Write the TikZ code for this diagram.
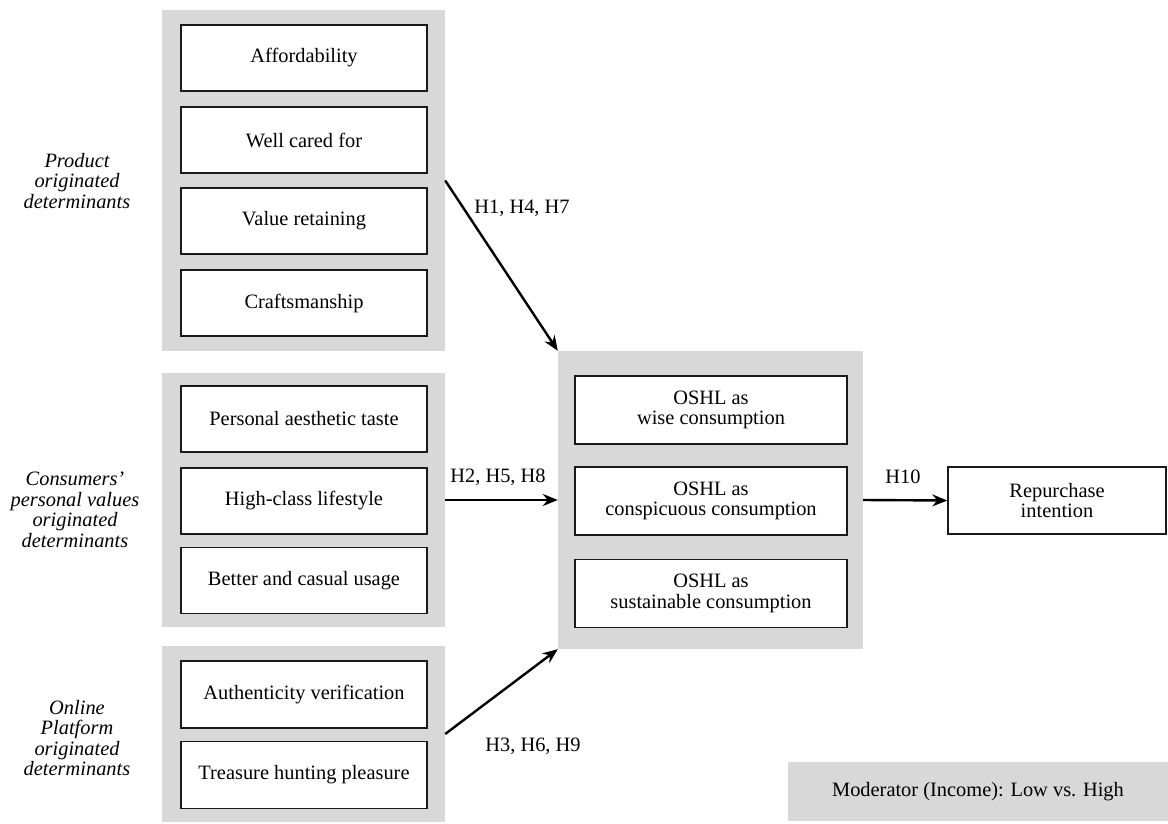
\documentclass[tikz,border=0pt]{standalone}
\usepackage{fontspec}
\setmainfont{Liberation Serif}
\usetikzlibrary{arrows.meta}
\definecolor{grp}{RGB}{216,216,216}
\begin{document}
\begin{tikzpicture}[x=1pt,y=-1pt,
 every node/.style={font=\fontsize{20.4}{20.5}\selectfont},
 grpbox/.style={fill=grp, draw=none, rectangle, inner sep=0pt},
 itembox/.style={fill=white, draw=black!90, line width=1.4pt, rectangle, inner sep=0pt, align=center, minimum width=246pt, minimum height=66pt},
 outbox/.style={fill=white, draw=black!90, line width=1.4pt, rectangle, inner sep=0pt, align=center, minimum width=272pt, minimum height=68pt},
 side/.style={font=\fontsize{20.4}{20.5}\selectfont\itshape, align=center, inner sep=0pt},
 lab/.style={inner sep=0pt},
 arr/.style={-{Stealth[length=15pt,width=12pt]}, line width=2.4pt}
]
\useasboundingbox (0,0) rectangle (1168,824);

% group boxes
\node[grpbox, minimum width=283pt, minimum height=341pt] (g1) at (303.5,180.5) {};
\node[grpbox, minimum width=283pt, minimum height=254pt] (g2) at (303.5,500) {};
\node[grpbox, minimum width=283pt, minimum height=176pt] (g3) at (303.5,734) {};
\node[grpbox, minimum width=305pt, minimum height=298pt] (cg) at (710.5,500) {};
\node[grpbox, minimum width=380pt, minimum height=59pt] (mod) at (978,791.5) {Moderator (Income): Low vs. High};

% product items
\node[itembox] (aff) at (304,58) {Affordability};
\node[itembox] (wcf) at (304,140) {Well cared for};
\node[itembox] (val) at (304,221) {Value retaining};
\node[itembox] (cra) at (304,303) {Craftsmanship};

% personal values items
\node[itembox] (pat) at (304,419) {Personal aesthetic taste};
\node[itembox] (hcl) at (304,501) {High-class lifestyle};
\node[itembox] (bcu) at (304,580.5) {Better and casual usage};

% platform items
\node[itembox, minimum height=67pt] (auv) at (304,694.5) {Authenticity verification};
\node[itembox, minimum height=67pt] (thp) at (304,775) {Treasure hunting pleasure};

% outcome items
\node[outbox] (wise) at (711,410) {OSHL as\\wise consumption};
\node[outbox] (consp) at (711,501) {OSHL as\\conspicuous consumption};
\node[outbox] (sust) at (711,593.5) {OSHL as\\sustainable consumption};

\node[fill=white, draw=black!90, line width=1.4pt, rectangle, inner sep=0pt, align=center, minimum width=218pt, minimum height=67pt] (rep) at (1057,500.5) {Repurchase\\intention};

% side labels
\node[side] (s1) at (77,181) {Product\\originated\\determinants};
\node[side] (s2) at (75,510) {Consumers'\\personal values\\originated\\determinants};
\node[side] (s3) at (77,738) {Online\\Platform\\originated\\determinants};

% arrows
\draw[arr] (g1.east) -- (cg.north west);
\draw[arr] (g2.east) -- (cg.west);
\draw[arr] (g3.east) -- (cg.south west);
\draw[arr] (cg.east) -- (rep.west);

% arrow labels
\node[lab] (l1) at (522,208) {H1, H4, H7};
\node[lab] (l2) at (498,477) {H2, H5, H8};
\node[lab] (l3) at (533,746) {H3, H6, H9};
\node[lab] (l4) at (903,477) {H10};
\end{tikzpicture}
\end{document}
